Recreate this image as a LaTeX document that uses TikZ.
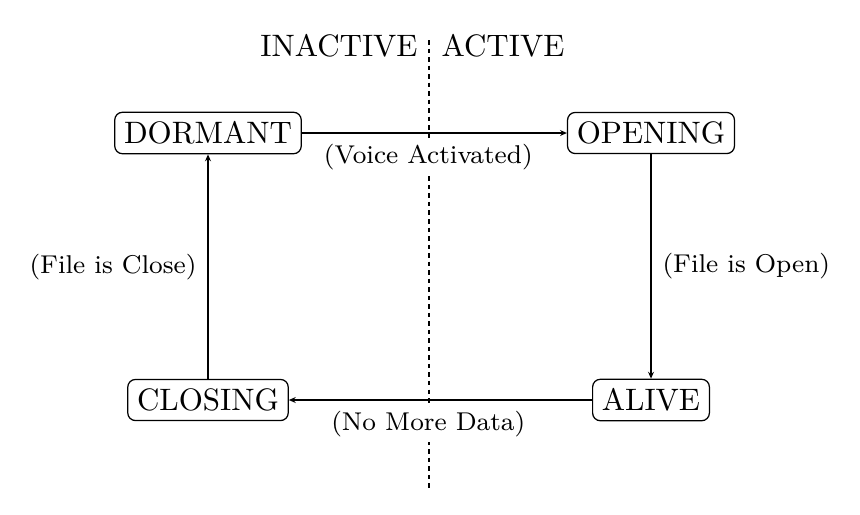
\documentclass[tikz,border=0pt]{standalone}
\usetikzlibrary{arrows.meta}
\begin{document}
\begin{tikzpicture}[x=0.3226pt,y=-0.3226pt,
  state/.style={draw,rounded corners=2.5pt,inner sep=3pt,font=\normalsize},
  trans/.style={-{Stealth[length=2.2pt,width=1.9pt]},line width=0.45pt},
  lbl/.style={font=\fontsize{8.3}{10}\selectfont,fill=white,inner sep=1.5pt}]
\useasboundingbox (0,0) rectangle (860,514);
\coordinate (dtop) at (429,40);
\coordinate (dbot) at (429,488);
\draw[dash pattern=on 1.45pt off 1.3pt,line width=0.45pt] (dtop) -- (dbot);
\node (inactive) at (339,46) {INACTIVE};
\node (active) at (503,46) {ACTIVE};
\node[state] (dormant) at (208,133) {DORMANT};
\node[state] (opening) at (651,133) {OPENING};
\node[state] (alive) at (651,400) {ALIVE};
\node[state] (closing) at (208,400) {CLOSING};
\draw[trans] (dormant) -- node[lbl,pos=0.477,below=2pt] (l1) {(Voice Activated)} (opening);
\draw[trans] (opening) -- node[lbl,right=2pt] (l2) {(File is Open)} (alive);
\draw[trans] (alive) -- node[lbl,pos=0.54,below=2pt] (l3) {(No More Data)} (closing);
\draw[trans] (closing) -- node[lbl,left=2pt] (l4) {(File is Close)} (dormant);
\end{tikzpicture}
\end{document}
